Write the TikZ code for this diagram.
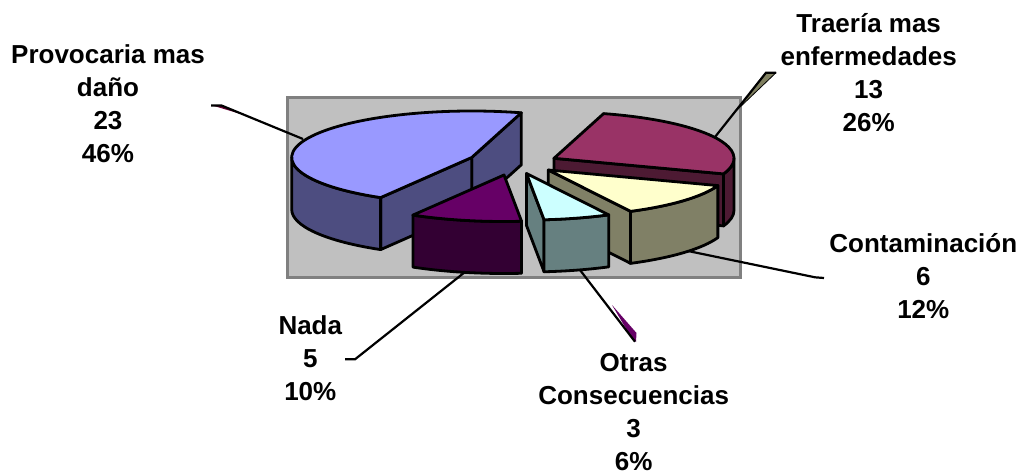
\documentclass[tikz,border=0pt]{standalone}
\usepackage{fontspec}
\setmainfont{Liberation Sans}
\usetikzlibrary{calc}

\definecolor{blueTop}{HTML}{9999FF}
\definecolor{blueSide}{HTML}{4D4D80}
\definecolor{plumTop}{HTML}{993366}
\definecolor{plumSide}{HTML}{4D1A33}
\definecolor{creamTop}{HTML}{FFFFCC}
\definecolor{creamSide}{HTML}{808066}
\definecolor{iceTop}{HTML}{CCFFFF}
\definecolor{iceSide}{HTML}{668080}
\definecolor{violetTop}{HTML}{660066}
\definecolor{violetSide}{HTML}{330033}
\definecolor{plotGray}{HTML}{C0C0C0}
\definecolor{frameGray}{HTML}{808080}
\definecolor{tailMaroon}{HTML}{660033}
\definecolor{tailOlive}{HTML}{808060}

\tikzset{
    face/.style={draw=black, line width=2.8pt, line join=round},
    leader/.style={draw=black, line width=2.2pt},
    tail/.style={draw=black, line width=0.8pt, line join=round},
    lbl/.style={font=\bfseries\fontsize{26}{33}\selectfont, align=center, inner sep=0pt}
}

\def\pied{52}

\begin{document}
\begin{tikzpicture}[x=1pt, y=-1pt, x radius=180, y radius=46.5]
    \useasboundingbox (0,0) rectangle (1026,476);

    % Plot area
    \draw[fill=plotGray, draw=frameGray, line width=3pt] (287.3,97.3) rectangle (740,277.3);

    % Slice centres (exploded)
    \coordinate (cB) at (471.7,157.5);
    \coordinate (cM) at (554,158.3);
    \coordinate (cY) at (548.3,170);
    \coordinate (cC) at (526.5,173.5);
    \coordinate (cP) at (504,175);

    % Leader lines
    \coordinate (provA) at (303,139);  \coordinate (provB) at (221.5,105.5); \coordinate (provC) at (211,105.5);
    \coordinate (traeA) at (715,137);  \coordinate (traeB) at (766,72.7);    \coordinate (traeC) at (776,72.7);
    \coordinate (contA) at (688,251);  \coordinate (contB) at (815,277.3);   \coordinate (contC) at (824,278);
    \coordinate (otraA) at (580,270);  \coordinate (otraB) at (635,341.7);
    \coordinate (nadaA) at (465,272);  \coordinate (nadaB) at (355,359.3);   \coordinate (nadaC) at (345,359.3);

    \fill[tailMaroon] (214,106) -- (222,105.5) -- (239,113.5) -- cycle;
    \draw[tail, fill=tailOlive] (traeB) -- (traeC) -- (737,110) -- cycle;
    \fill[violetTop] (612,305) -- (636.5,333) -- (636,342) -- (631,337) -- cycle;

    \draw[leader] (provA) -- (provB) -- (provC);
    \draw[leader] (traeA) -- (traeB) -- (traeC);
    \draw[leader] (contA) -- (contB) -- (contC);
    \draw[leader] (otraA) -- (otraB);
    \draw[leader] (nadaA) -- (nadaB) -- (nadaC);

    % Provocaria mas dano
    \begin{scope}[shift={(cB)}]
        \draw[face, fill=blueSide] (0,0) -- (286:180 and 46.5) -- ++(0,\pied) -- (0,\pied) -- cycle;
        \draw[face, fill=blueSide] (0,0) -- (120.4:180 and 46.5) -- ++(0,\pied) -- (0,\pied) -- cycle;
        \draw[face, fill=blueSide] (120.4:180 and 46.5) arc[start angle=120.4, end angle=180]
            -- ++(0,\pied) arc[start angle=180, end angle=120.4] -- cycle;
        \draw[face, fill=blueTop] (0,0) -- (120.4:180 and 46.5) arc[start angle=120.4, end angle=286] -- cycle;
    \end{scope}

    % Traeria mas enfermedades
    \begin{scope}[shift={(cM)}]
        \draw[face, fill=plumSide] (0,0) -- (19.6:180 and 46.5) -- ++(0,\pied) -- (0,\pied) -- cycle;
        \draw[face, fill=plumSide] (0:180 and 46.5) arc[start angle=0, end angle=19.6]
            -- ++(0,\pied) arc[start angle=19.6, end angle=0] -- cycle;
        \draw[face, fill=plumTop] (0,0) -- (286:180 and 46.5) arc[start angle=286, end angle=379.6] -- cycle;
    \end{scope}

    % Contaminacion
    \begin{scope}[shift={(cY)}]
        \draw[face, fill=creamSide] (0,0) -- (62.8:180 and 46.5) -- ++(0,\pied) -- (0,\pied) -- cycle;
        \draw[face, fill=creamSide] (19.6:180 and 46.5) arc[start angle=19.6, end angle=62.8]
            -- ++(0,\pied) arc[start angle=62.8, end angle=19.6] -- cycle;
        \draw[face, fill=creamTop] (0,0) -- (19.6:180 and 46.5) arc[start angle=19.6, end angle=62.8] -- cycle;
    \end{scope}

    % Otras consecuencias
    \begin{scope}[shift={(cC)}]
        \draw[face, fill=iceSide] (0,0) -- (84.4:180 and 46.5) -- ++(0,\pied) -- (0,\pied) -- cycle;
        \draw[face, fill=iceSide] (62.8:180 and 46.5) arc[start angle=62.8, end angle=84.4]
            -- ++(0,\pied) arc[start angle=84.4, end angle=62.8] -- cycle;
        \draw[face, fill=iceTop] (0,0) -- (62.8:180 and 46.5) arc[start angle=62.8, end angle=84.4] -- cycle;
    \end{scope}

    % Nada
    \begin{scope}[shift={(cP)}]
        \draw[face, fill=violetSide] (84.4:180 and 46.5) arc[start angle=84.4, end angle=120.4]
            -- ++(0,\pied) arc[start angle=120.4, end angle=84.4] -- cycle;
        \draw[face, fill=violetTop] (0,0) -- (84.4:180 and 46.5) arc[start angle=84.4, end angle=120.4] -- cycle;
    \end{scope}

    % Data labels
    \foreach \px/\py/\nm/\txt in {108/104.2/lblProv/{Provocaria mas\\daño\\23\\46\%},
                                  868.7/72.7/lblTrae/{Traería mas\\enfermedades\\13\\26\%},
                                  923.3/276.3/lblCont/{Contaminación\\6\\12\%},
                                  310.3/358.2/lblNada/{Nada\\5\\10\%},
                                  633.7/412.4/lblOtras/{Otras\\Consecuencias\\3\\6\%}} {
        \node[lbl] (\nm) at (\px,\py) {\txt};
    }
\end{tikzpicture}
\end{document}
